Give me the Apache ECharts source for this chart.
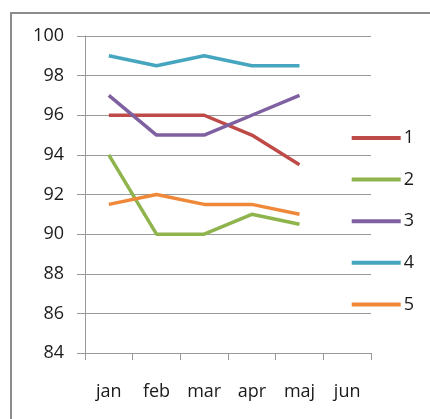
<!DOCTYPE html>
<html><head><meta charset="utf-8">
<script src="https://cdn.jsdelivr.net/npm/echarts@6/dist/echarts.min.js"></script>
<style>html,body{margin:0;padding:0;background:#fff}#c{width:430px;height:419px}</style>
</head><body><div id="c"></div>
<script>
const categories = ['jan','feb','mar','apr','maj','jun'];
const seriesNames = ['1','2','3','4','5'];
const s1 = [96, 96, 96, 95, 93.5];
const s2 = [94, 90, 90, 91, 90.5];
const s3 = [97, 95, 95, 96, 97];
const s4 = [99, 98.5, 99, 98.5, 98.5];
const s5 = [91.5, 92, 91.5, 91.5, 91];
const colors = ['#BE4B48','#8FB44E','#7F60A0','#46A6C0','#F0883A'];
const allData = [s1, s2, s3, s4, s5];

const chart = echarts.init(document.getElementById('c'));
const font = 'Open Sans';
chart.setOption({
  animation: false,
  graphic: [{type:'rect', shape:{x:11, y:13, width:440, height:420}, style:{fill:'none', stroke:'#8c8c8c', lineWidth:2}, silent:true}],
  grid: {left:85, top:36, right:59, bottom:66},
  legend: {
    orient:'vertical', right:11, top:124, itemWidth:49, itemHeight:4, itemGap:23.6,
    icon:'rect',
    textStyle:{fontFamily:font, fontSize:18, lineHeight:18, color:'#1a1a1a', padding:[0,0,0,-2]},
    data: seriesNames
  },
  xAxis: {
    type:'category', data:categories, boundaryGap:true,
    axisLine:{lineStyle:{color:'#999', width:1}},
    axisTick:{show:true, length:7, lineStyle:{color:'#999'}},
    axisLabel:{fontFamily:font, fontSize:18, color:'#1a1a1a', margin:30}
  },
  yAxis: {
    type:'value', min:84, max:100, interval:2,
    axisLine:{show:true, lineStyle:{color:'#999'}},
    axisTick:{show:true, length:8, lineStyle:{color:'#999'}},
    splitLine:{lineStyle:{color:'#999'}},
    axisLabel:{fontFamily:font, fontSize:18, color:'#1a1a1a', margin:21}
  },
  series: allData.map((d,i)=>({
    name: seriesNames[i], type:'line', data:d, showSymbol:false, symbol:'none',
    lineStyle:{width:3.5, color:colors[i]}, itemStyle:{color:colors[i]}
  }))
});
</script></body></html>
